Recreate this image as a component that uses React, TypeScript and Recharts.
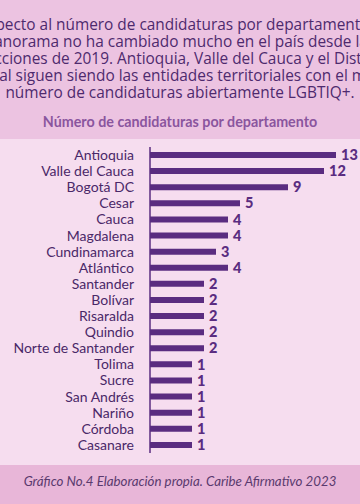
import { BarChart, Bar, XAxis, YAxis, LabelList } from 'recharts';

const departamentos = [
  'Antioquia', 'Valle del Cauca', 'Bogotá DC', 'Cesar', 'Cauca', 'Magdalena',
  'Cundinamarca', 'Atlántico', 'Santander', 'Bolívar', 'Risaralda', 'Quindio',
  'Norte de Santander', 'Tolima', 'Sucre', 'San Andrés', 'Nariño', 'Córdoba', 'Casanare',
];
const candidaturas = [13, 12, 9, 5, 4, 4, 3, 4, 2, 2, 2, 2, 2, 1, 1, 1, 1, 1, 1];

const introLines = [
  'Respecto al número de candidaturas por departamento, el',
  'panorama no ha cambiado mucho en el país desde las',
  'elecciones de 2019. Antioquia, Valle del Cauca y el Distrito',
  'Capital siguen siendo las entidades territoriales con el mayor',
  'número de candidaturas abiertamente LGBTIQ+.',
];

// the original bars don't start at zero, the axis sits a bit left of it
const AXIS_START = -2.5;

const PURPLE = '#5a2c80';
const FONT = 'Lato, "Open Sans", sans-serif';

const data = departamentos.map((name, i) => ({ name, value: candidaturas[i] }));

export default function App() {
  return (
    <div style={{ position: 'absolute', top: 0, left: 0, width: 360, height: 504, overflow: 'hidden', fontFamily: FONT, background: '#f6ddef' }}>
      <div style={{ position: 'absolute', top: 0, left: 0, width: 360, height: 139, background: '#ecc3e1', overflow: 'hidden' }}>
        <div style={{ position: 'absolute', top: 16, left: -70, width: 500, textAlign: 'center', color: '#4e2a6e', fontFamily: '"Open Sans", sans-serif', fontSize: 15.4, lineHeight: '17px', whiteSpace: 'nowrap' }}>
          {introLines.map((l) => (
            <div key={l}>{l}</div>
          ))}
        </div>
        <div style={{ position: 'absolute', top: 113, left: 0, width: 360, textAlign: 'center', color: '#8a559e', fontSize: 14.3, fontWeight: 700 }}>
          Número de candidaturas por departamento
        </div>
      </div>

      <div style={{ position: 'absolute', top: 139, left: 0 }}>
        <BarChart
          width={360}
          height={326}
          data={data}
          layout="vertical"
          margin={{ top: 8, right: 24, bottom: 12, left: 0 }}
        >
          <XAxis type="number" domain={[AXIS_START, 13]} allowDataOverflow hide />
          <YAxis
            type="category"
            dataKey="name"
            width={150}
            interval={0}
            tickLine={false}
            tickSize={0}
            tickMargin={16}
            axisLine={{ stroke: PURPLE, strokeWidth: 1.5 }}
            tick={{ fill: '#4a2868', fontSize: 14, fontFamily: FONT }}
          />
          <Bar
            dataKey={(d: { value: number }) => [AXIS_START, d.value]}
            fill={PURPLE}
            barSize={6}
            isAnimationActive={false}
          >
            <LabelList
              dataKey="value"
              position="right"
              offset={5}
              fill={PURPLE}
              style={{ fontSize: 14.5, fontWeight: 900, fontFamily: FONT }}
            />
          </Bar>
        </BarChart>
      </div>

      <div style={{ position: 'absolute', top: 465, left: 0, width: 360, height: 39, background: '#e8b6d8' }}>
        <div style={{ textAlign: 'center', marginTop: 8, color: '#5a3a6e', fontSize: 13.3, fontStyle: 'italic' }}>
          Gráfico No.4 Elaboración propia. Caribe Afirmativo 2023
        </div>
      </div>
    </div>
  );
}
